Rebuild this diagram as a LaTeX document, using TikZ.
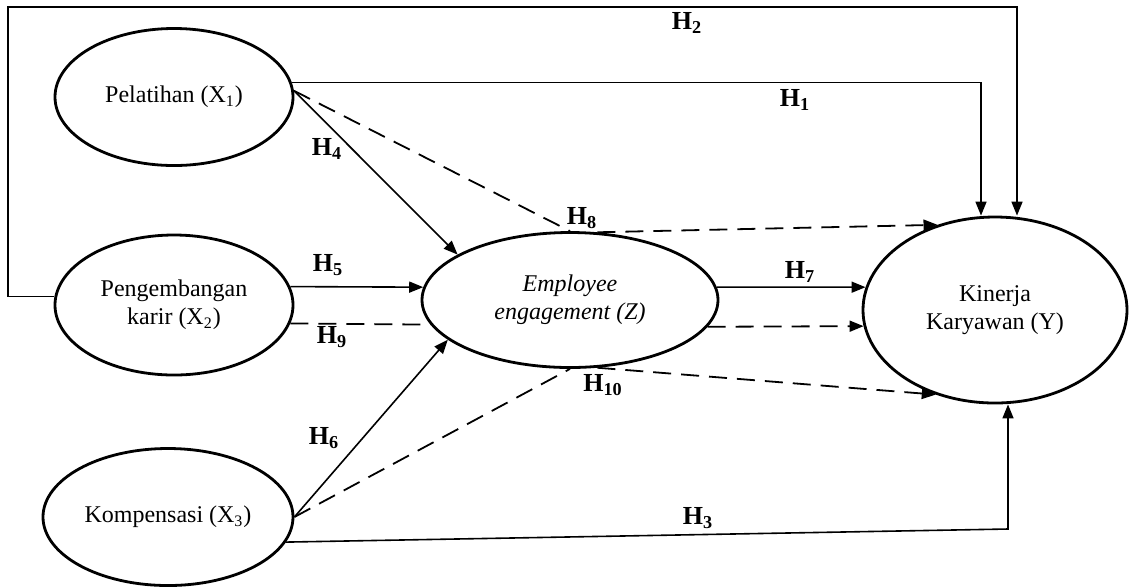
\documentclass[tikz,border=0pt]{standalone}
\usepackage{fontspec}
\setmainfont{Liberation Serif}
\usetikzlibrary{shapes.geometric,arrows.meta}
\begin{document}
\begin{tikzpicture}[x=0.5pt,y=-0.5pt,>={Triangle[length=7pt,width=5.5pt]},font=\fontsize{12}{14}\selectfont]
    \tikzstyle{var}=[draw=black,line width=1.4pt,ellipse,inner sep=0pt,align=center]
    \tikzstyle{hyp}=[font=\fontsize{13}{15}\selectfont\bfseries,inner sep=0pt]
    \tikzstyle{link}=[line width=0.8pt]
    \tikzstyle{indirect}=[line width=0.9pt,dash pattern=on 9pt off 5pt]
    \useasboundingbox (0,0) rectangle (1129,586);

    \node[var, minimum width=119pt, minimum height=68.5pt] (x1) at (174,97) {Pelatihan (X\textsubscript{1})};
    \node[var, minimum width=119pt, minimum height=70pt] (x2) at (174,305) {Pengembangan\\karir (X\textsubscript{2})};
    \node[var, minimum width=125pt, minimum height=68.5pt] (x3) at (168,517) {Kompensasi (X\textsubscript{3})};
    \node[var, minimum width=148pt, minimum height=67.5pt, font=\fontsize{12}{14}\selectfont\itshape] (z) at (570,300) {Employee\\engagement (Z)};
    \node[var, minimum width=132pt, minimum height=93pt] (y) at (995,310) {Kinerja\\Karyawan (Y)};

    \coordinate (corner) at (8,7);
    \coordinate (bend3) at (1008,529);

    % direct paths
    \draw[link,->] (x1.7) -| ([xshift=-7pt]y.north);
    \draw[link,->] (x2.176) -| (corner) -| ([xshift=11pt]y.north);
    \draw[link,->] (x3.-12) -- (bend3) -- ([xshift=6.5pt]y.south);
    \draw[link,->] (x1.3) -- (z.158);
    \draw[link,->] (x2.9) -- (z.175);
    \draw[link,->] (x3.east) -- (z.198);
    \draw[link,->] (z.5) -- (y.170);

    % mediation paths
    \draw[indirect] (x1.3) -- (z.north);
    \draw[indirect,->] (z.68) -- (y.124);
    \draw[indirect] (x2.-9) -- (z.190);
    \draw[indirect,->] (z.-11) -- (y.187);
    \draw[indirect] (x3.east) -- (z.south);
    \draw[indirect,->] (z.-68) -- (y.235);

    \node[hyp] (h1) at (795,100) {H\textsubscript{1}};
    \node[hyp] (h2) at (687,23) {H\textsubscript{2}};
    \node[hyp] (h3) at (698,518) {H\textsubscript{3}};
    \node[hyp] (h4) at (327,149) {H\textsubscript{4}};
    \node[hyp] (h5) at (328,265) {H\textsubscript{5}};
    \node[hyp] (h6) at (324,438) {H\textsubscript{6}};
    \node[hyp] (h7) at (800,272) {H\textsubscript{7}};
    \node[hyp] (h8) at (582,218) {H\textsubscript{8}};
    \node[hyp] (h9) at (332,337) {H\textsubscript{9}};
    \node[hyp] (h10) at (603,385) {H\textsubscript{10}};
\end{tikzpicture}
\end{document}
